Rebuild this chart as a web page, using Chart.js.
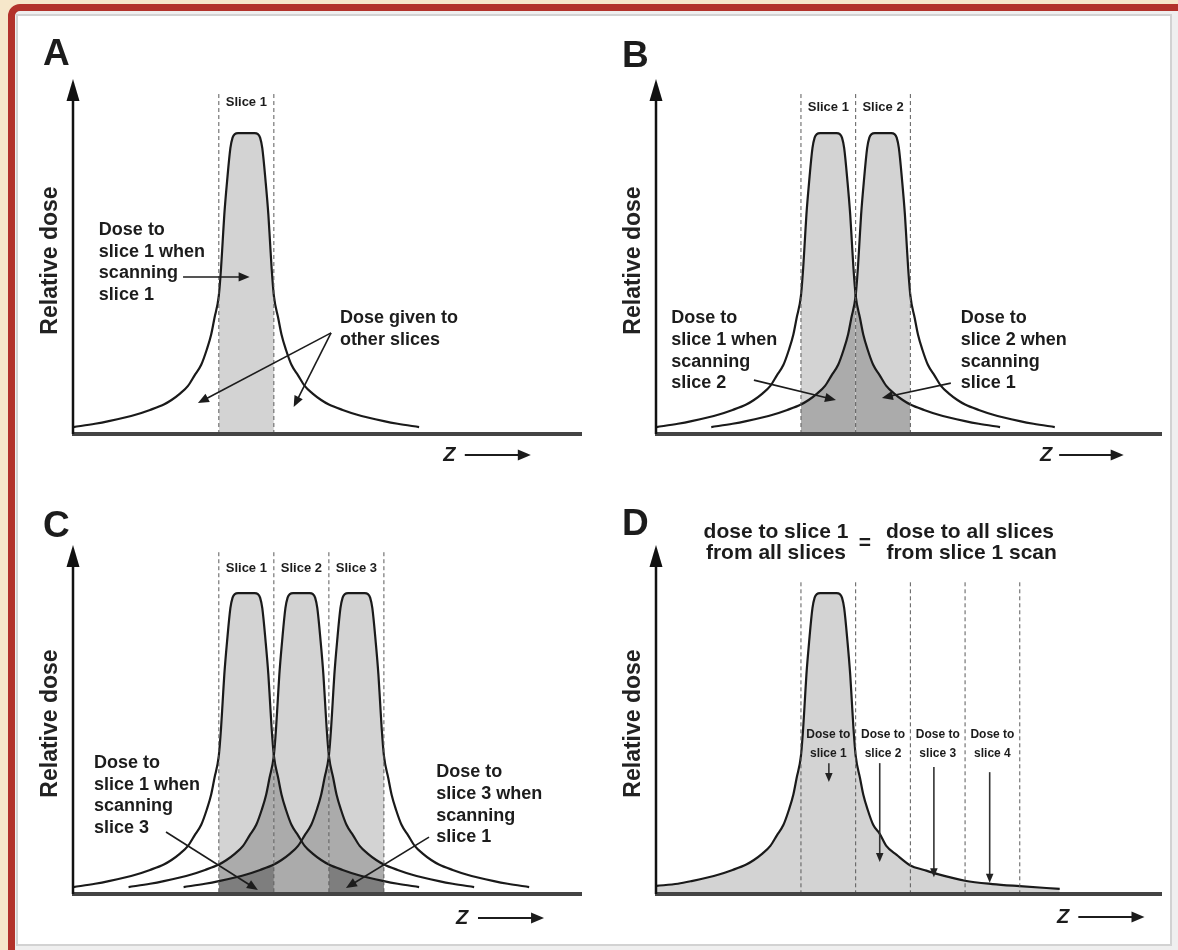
<!DOCTYPE html>
<html><head><meta charset="utf-8">
<script src="https://cdn.jsdelivr.net/npm/chart.js@4.4.1/dist/chart.umd.min.js"></script>
<style>
html,body{margin:0;padding:0;width:1178px;height:950px;overflow:hidden;background:#f6e7ca;}
#frame{position:absolute;left:8px;top:4px;width:1220px;height:1000px;border:7px solid #b2322b;border-radius:12px;box-sizing:border-box;background:#efefef;}
#inner{position:absolute;left:16px;top:14px;width:1156px;height:932px;background:#fff;border:2px solid #d2d2d2;box-sizing:border-box;}
canvas{position:absolute;left:0;top:0;}
</style></head><body>
<div id="frame"></div><div id="inner"></div>
<canvas id="cA" width="1178" height="950"></canvas>
<canvas id="cB" width="1178" height="950"></canvas>
<canvas id="cC" width="1178" height="950"></canvas>
<canvas id="cD" width="1178" height="950"></canvas>
<script>
// ---------------- data (z in slice widths, dose in % of peak) ----------------
// single-slice dose profile, offset from slice centre
const PROFILE_DZ   = [-3.14,-2.75,-2.5,-2.0,-1.75,-1.5,-1.36,-1.2,-1.06,-0.94,-0.82,-0.72,-0.64,-0.58,-0.5,-0.46,-0.43,-0.40,-0.35,-0.29,-0.25,-0.21,-0.15,0,0.15,0.21,0.25,0.29,0.35,0.40,0.43,0.46,0.5,0.58,0.64,0.72,0.82,0.94,1.06,1.2,1.36,1.5,1.75,2.0,2.5,2.75,3.14];
const PROFILE_DOSE = [2.3,3.4,4.3,6.5,8,9.8,11.3,13.5,16,19.5,23,28,33,38.5,46,55,64,73,84,95,98.5,99.7,100,100,100,99.7,98.5,95,84,73,64,55,46,38.5,33,28,23,19.5,16,13.5,11.3,9.8,8,6.5,4.3,3.4,2.3];
// panel D profile (longer right tail)
const D_PROFILE_DZ   = [-3.14,-2.75,-2.5,-2.0,-1.75,-1.5,-1.36,-1.2,-1.06,-0.94,-0.82,-0.72,-0.64,-0.58,-0.5,-0.46,-0.43,-0.40,-0.35,-0.29,-0.25,-0.21,-0.15,0,0.15,0.21,0.25,0.29,0.35,0.40,0.43,0.46,0.5,0.58,0.64,0.72,0.82,0.94,1.06,1.25,1.5,1.75,2.0,2.5,3.0,3.5,4.23];
const D_PROFILE_DOSE = [2.7,3.4,4.3,6.5,8,9.8,11.3,13.5,16,19.5,23,28,33,38.5,46,55,64,73,84,95,98.5,99.7,100,100,100,99.7,98.5,95,84,73,64,55,46,38.5,33,28,23,20,16,13,9.5,8,6.6,4.4,3.3,2.6,1.7];

const SLICES_A = ['Slice 1'];
const SLICES_B = ['Slice 1','Slice 2'];
const SLICES_C = ['Slice 1','Slice 2','Slice 3'];
const SLICES_D = ['slice 1','slice 2','slice 3','slice 4'];
const D_BOUNDARIES = [0,1,2,3,4];
// D arrow positions (z) and dose from / to
const D_ARROW_Z    = [0.51,1.44,2.43,3.45];
const D_ARROW_FROM = [43.5,43.5,42.2,40.5];
const D_ARROW_TO   = [37.2,10.6,5.6,3.7];

const SHADES = ['#d3d3d3','#ababab','#7e7e7e'];
const INK = '#1c1c1c';
const FONT = '"Liberation Sans", Arial, sans-serif';

function curve(center, dz, dose){ return dz.map((d,i)=>({x:center+d, y:dose[i]})); }
function region(pts, lo, hi){ return pts.filter(p=>p.x>=lo-1e-9 && p.x<=hi+1e-9); }

function arrow(ctx,x1,y1,x2,y2,head,w){
  const a=Math.atan2(y2-y1,x2-x1);
  ctx.lineWidth=w;
  ctx.beginPath();ctx.moveTo(x1,y1);ctx.lineTo(x2-Math.cos(a)*head*0.7,y2-Math.sin(a)*head*0.7);ctx.stroke();
  const hw=head*0.42;
  ctx.beginPath();ctx.moveTo(x2,y2);
  ctx.lineTo(x2-head*Math.cos(a)+hw*Math.sin(a), y2-head*Math.sin(a)-hw*Math.cos(a));
  ctx.lineTo(x2-head*Math.cos(a)-hw*Math.sin(a), y2-head*Math.sin(a)+hw*Math.cos(a));
  ctx.closePath();ctx.fill();
}
function lines(ctx,arr,x,y,lh,align){
  ctx.textAlign=align||'left';ctx.textBaseline='middle';
  arr.forEach((t,i)=>ctx.fillText(t,x,y+i*lh));
}

function makeDeco(p){
  return {id:'deco'+p.letter, afterDatasetsDraw(chart){
    const ctx=chart.ctx, a=chart.chartArea, X=chart.scales.x, Y=chart.scales.y;
    ctx.save();
    // dashed slice boundaries
    ctx.strokeStyle='#5a5a5a';ctx.lineWidth=1;ctx.setLineDash([4,3]);
    p.bounds.forEach(b=>{ctx.beginPath();ctx.moveTo(X.getPixelForValue(b),Y.getPixelForValue(p.dashTop));ctx.lineTo(X.getPixelForValue(b),Y.getPixelForValue(0));ctx.stroke();});
    ctx.setLineDash([]);
    // axes
    ctx.strokeStyle='#444';ctx.lineWidth=4;
    ctx.beginPath();ctx.moveTo(a.left-1,a.bottom);ctx.lineTo(a.right,a.bottom);ctx.stroke();
    ctx.strokeStyle='#111';ctx.fillStyle='#111';ctx.lineWidth=2.5;
    ctx.beginPath();ctx.moveTo(a.left,a.bottom);ctx.lineTo(a.left,a.top+18);ctx.stroke();
    ctx.beginPath();ctx.moveTo(a.left,a.top);ctx.lineTo(a.left-6.5,a.top+22);ctx.lineTo(a.left+6.5,a.top+22);ctx.closePath();ctx.fill();
    ctx.fillStyle=INK;ctx.strokeStyle=INK;
    // panel letter
    ctx.font='bold 37px '+FONT;ctx.textAlign='left';ctx.textBaseline='alphabetic';
    ctx.fillText(p.letter,a.left+p.letterDx,a.top+p.letterDy);
    // y title
    ctx.save();ctx.translate(a.left-22,(a.top+a.bottom)/2+4);ctx.rotate(-Math.PI/2);
    ctx.font='bold 23px '+FONT;ctx.textAlign='center';ctx.textBaseline='middle';ctx.fillStyle='#222';
    ctx.fillText('Relative dose',0,0);ctx.restore();
    // z arrow
    const zy=a.bottom+p.zDy;
    ctx.font='italic bold 20px '+FONT;ctx.textAlign='center';ctx.textBaseline='middle';
    ctx.fillText('Z',X.getPixelForValue(p.zText),zy);
    arrow(ctx,X.getPixelForValue(p.zArrow[0]),zy,X.getPixelForValue(p.zArrow[1]),zy,13,1.8);
    // slice labels
    ctx.font='bold 13px '+FONT;
    (p.sliceLabels||[]).forEach((t,i)=>{ctx.textAlign='center';ctx.fillText(t,X.getPixelForValue(i+0.5),Y.getPixelForValue(p.labelY));});
    // notes
    ctx.font='bold 18px '+FONT;
    (p.notes||[]).forEach(n=>lines(ctx,n.text,X.getPixelForValue(n.x),Y.getPixelForValue(n.y),21.7,'left'));
    (p.arrows||[]).forEach(r=>arrow(ctx,X.getPixelForValue(r[0]),Y.getPixelForValue(r[1]),X.getPixelForValue(r[2]),Y.getPixelForValue(r[3]),11,1.6));
    if(p.extra) p.extra(ctx,X,Y,a);
    ctx.restore();
  }};
}

function buildDatasets(n){
  const ds=[];
  const curves=[];
  for(let i=0;i<n;i++) curves.push(curve(i+0.5,PROFILE_DZ,PROFILE_DOSE));
  curves.forEach(c=>ds.push({data:c,borderColor:'#1a1a1a',borderWidth:2.2,fill:false,order:0}));
  for(let j=0;j<n;j++) for(let i=0;i<n;i++){
    const d=Math.abs(i-j);
    ds.push({data:region(curves[i],j,j+1),borderColor:'transparent',borderWidth:0,backgroundColor:SHADES[d],fill:'origin',order:3-d});
  }
  return ds;
}

function makeChart(id,p,datasets){
  new Chart(document.getElementById(id),{
    type:'line',
    data:{datasets},
    options:{
      responsive:false,animation:false,events:[],devicePixelRatio:1,
      layout:{padding:p.pad},
      elements:{point:{radius:0},line:{cubicInterpolationMode:'monotone'}},
      scales:{x:{type:'linear',min:-2.65,max:6.6,display:false},y:{type:'linear',min:0,max:p.yMax,display:false}},
      plugins:{legend:{display:false},tooltip:{enabled:false}}
    },
    plugins:[makeDeco(p)]
  });
}

const pA={letter:'A',pad:{left:73,right:596,top:79,bottom:516},yMax:118,bounds:[0,1],dashTop:113,labelY:110.3,
  letterDx:-30,letterDy:-14,zDy:21,zText:4.19,zArrow:[4.47,5.67],sliceLabels:SLICES_A,
  notes:[{text:['Dose to','slice 1 when','scanning','slice 1'],x:-2.18,y:67.8},{text:['Dose given to','other slices'],x:2.2,y:38.5}],
  arrows:[[-0.65,52.2,0.56,52.2],[2.04,33.6,-0.38,10.3],[2.04,33.6,1.36,9.0]]};
const pB={letter:'B',pad:{left:656,right:16,top:79,bottom:516},yMax:118,bounds:[0,1,2],dashTop:113,labelY:108.6,
  letterDx:-34,letterDy:-12,zDy:21,zText:4.48,zArrow:[4.72,5.9],sliceLabels:SLICES_B,
  notes:[{text:['Dose to','slice 1 when','scanning','slice 2'],x:-2.37,y:38.5},{text:['Dose to','slice 2 when','scanning','slice 1'],x:2.92,y:38.5}],
  arrows:[[-0.86,17.9,0.64,11.3],[2.74,16.9,1.48,12.0]]};
const pC={letter:'C',pad:{left:73,right:596,top:545,bottom:56},yMax:116,bounds:[0,1,2,3],dashTop:113.6,labelY:108.3,
  letterDx:-30,letterDy:-8,zDy:24,zText:4.42,zArrow:[4.71,5.91],sliceLabels:SLICES_C,
  notes:[{text:['Dose to','slice 1 when','scanning','slice 3'],x:-2.27,y:43.5},{text:['Dose to','slice 3 when','scanning','slice 1'],x:3.95,y:40.5}],
  arrows:[[-0.96,20.6,0.71,1.3],[3.82,18.9,2.31,2.0]]};
const pD={letter:'D',pad:{left:656,right:16,top:545,bottom:56},yMax:116,bounds:D_BOUNDARIES,dashTop:103.6,labelY:0,
  letterDx:-34,letterDy:-10,zDy:23,zText:4.79,zArrow:[5.07,6.28],sliceLabels:[],
  notes:[],arrows:[],
  extra(ctx,X,Y,a){
    ctx.font='bold 21px '+FONT;ctx.textBaseline='middle';ctx.textAlign='center';
    ctx.fillText('dose to slice 1',X.getPixelForValue(-0.457),Y.getPixelForValue(120.3));
    ctx.fillText('from all slices',X.getPixelForValue(-0.457),Y.getPixelForValue(113.3));
    ctx.fillText('=',X.getPixelForValue(1.17),Y.getPixelForValue(116.6));
    ctx.fillText('dose to all slices',X.getPixelForValue(3.09),Y.getPixelForValue(120.3));
    ctx.fillText('from slice 1 scan',X.getPixelForValue(3.12),Y.getPixelForValue(113.3));
    ctx.font='bold 12px '+FONT;
    SLICES_D.forEach((t,i)=>{
      ctx.fillText('Dose to',X.getPixelForValue(i+0.5),Y.getPixelForValue(52.8));
      ctx.fillText(t,X.getPixelForValue(i+0.5),Y.getPixelForValue(46.8));
    });
    ctx.strokeStyle='#333';ctx.fillStyle='#222';
    D_ARROW_Z.forEach((z,i)=>arrow(ctx,X.getPixelForValue(z),Y.getPixelForValue(D_ARROW_FROM[i]),X.getPixelForValue(z),Y.getPixelForValue(D_ARROW_TO[i]),9,1.6));
  }};

makeChart('cA',pA,buildDatasets(1));
makeChart('cB',pB,buildDatasets(2));
makeChart('cC',pC,buildDatasets(3));
const dCurve=curve(0.5,D_PROFILE_DZ,D_PROFILE_DOSE);
makeChart('cD',pD,[
  {data:dCurve,borderColor:'#1a1a1a',borderWidth:2.2,fill:false,order:0},
  {data:dCurve,borderColor:'transparent',borderWidth:0,backgroundColor:SHADES[0],fill:'origin',order:3}
]);
</script>
</body></html>
